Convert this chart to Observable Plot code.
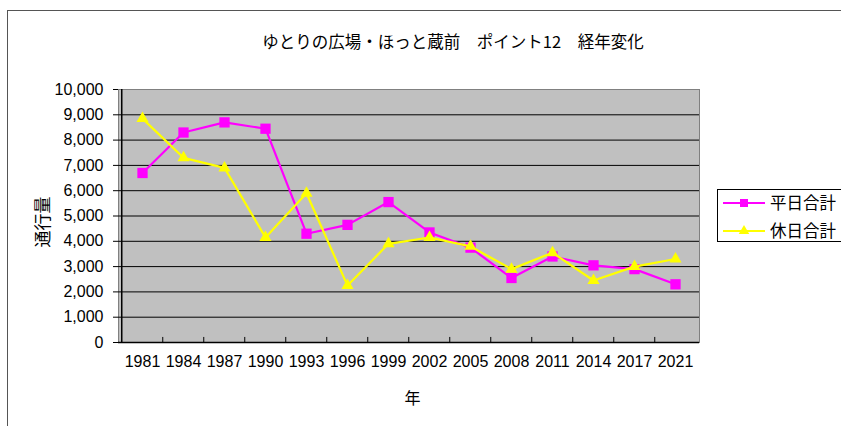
<!DOCTYPE html>
<html>
<head>
<meta charset="utf-8">
<script src="https://cdn.jsdelivr.net/npm/d3@7"></script>
<script src="https://cdn.jsdelivr.net/npm/@observablehq/plot@0.6"></script>
<style>
  html, body { margin: 0; padding: 0; background: #fff; overflow: hidden; }
  #wrap { position: relative; width: 841px; height: 426px; }
  #border { position: absolute; left: 7px; top: 10px; width: 900px; height: 500px; border: 1px solid #555; box-sizing: border-box; }
  #chart { position: absolute; left: 0; top: 0; }
</style>
</head>
<body>
<div id="wrap"><div id="border"></div><div id="chart"></div></div>
<script>
const years = ["1981","1984","1987","1990","1993","1996","1999","2002","2005","2008","2011","2014","2017","2021"];
const weekday = [6700, 8300, 8700, 8450, 4300, 4650, 5550, 4350, 3750, 2550, 3400, 3050, 2900, 2300];
const holiday = [8850, 7300, 6900, 4150, 5900, 2250, 3900, 4150, 3800, 2900, 3550, 2450, 3000, 3300];
const seriesNames = ["平日合計", "休日合計"];
const seriesColors = ["#FF00FF", "#FFFF00"];
const seriesSymbols = ["square", "triangle"];
const yTicks = [0, 1000, 2000, 3000, 4000, 5000, 6000, 7000, 8000, 9000, 10000];
const titleText = "ゆとりの広場・ほっと蔵前\u3000ポイント12\u3000経年変化";
const xLabel = "年";
const yLabel = "通行量";

const rowsA = years.map((y, i) => ({year: y, value: weekday[i], series: seriesNames[0]}));
const rowsB = years.map((y, i) => ({year: y, value: holiday[i], series: seriesNames[1]}));

const W = 841, H = 426;
const mL = 118, mR = 142, mT = 89, mB = 84;
const step = (W - mL - mR) / years.length;
const latin = "'Liberation Sans', Arial, sans-serif";
const cjk = "'Noto Sans CJK JP', sans-serif";

const plot = Plot.plot({
  width: W, height: H,
  marginLeft: mL, marginRight: mR, marginTop: mT, marginBottom: mB,
  style: {fontFamily: latin, fontSize: "16px", color: "#000", background: "transparent"},
  x: {type: "point", domain: years, padding: 0.5, align: 0.5},
  y: {domain: [0, 10000]},
  marks: [
    Plot.frame({fill: "#C0C0C0", stroke: "#808080"}),
    Plot.gridY(yTicks.filter(t => t > 0 && t < 10000), {stroke: "#000", strokeOpacity: 1, strokeWidth: 1}),
    Plot.ruleY([0], {stroke: "#000", strokeWidth: 1.5}),
    Plot.ruleX([years[0]], {dx: -step / 2, stroke: "#000", strokeWidth: 1.5}),
    Plot.ruleX(years.slice(1), {x: d => d, dx: -step / 2, y1: 0, y2: 200, stroke: "#000"}),
    Plot.axisY({ticks: yTicks, tickFormat: d3.format(","), tickSize: 5, tickPadding: 10, label: null, fontSize: 16, fontFamily: latin}),
    Plot.axisX({tickSize: 0, tickPadding: 13, label: null, fontSize: 16, fontFamily: latin}),
    Plot.line(rowsA, {x: "year", y: "value", stroke: seriesColors[0], strokeWidth: 2.2}),
    Plot.dot(rowsA, {x: "year", y: "value", symbol: seriesSymbols[0], r: 5.8, fill: seriesColors[0], stroke: "none"}),
    Plot.line(rowsB, {x: "year", y: "value", stroke: seriesColors[1], strokeWidth: 2.2}),
    Plot.dot(rowsB, {x: "year", y: "value", symbol: seriesSymbols[1], r: 4.5, fill: seriesColors[1], stroke: "none"}),
    Plot.text([titleText], {frameAnchor: "top", lineAnchor: "middle", dx: 44, dy: -47, fontSize: 16.5, fontFamily: cjk, fill: "#000"}),
    Plot.text([xLabel], {frameAnchor: "bottom", lineAnchor: "middle", dx: 3.5, dy: 56, fontSize: 16, fontFamily: cjk, fill: "#000"}),
    Plot.text([yLabel], {frameAnchor: "left", textAnchor: "middle", lineAnchor: "middle", dx: -75, dy: 6, rotate: -90, fontSize: 17, fontFamily: cjk, fill: "#000"})
  ]
});

// legend
const svg = d3.select(plot);
const lg = svg.append("g").attr("class", "legend").attr("text-anchor", "start");
lg.append("rect").attr("x", 717.5).attr("y", 189.5).attr("width", 140).attr("height", 52)
  .attr("fill", "#fff").attr("stroke", "#000");
seriesNames.forEach((name, i) => {
  const cy = 203 + i * 28;
  lg.append("line").attr("x1", 723).attr("x2", 765).attr("y1", cy).attr("y2", cy)
    .attr("stroke", seriesColors[i]).attr("stroke-width", 2.2);
  const sym = seriesSymbols[i] === "square" ? d3.symbolSquare : d3.symbolTriangle;
  const size = seriesSymbols[i] === "square" ? 64 : 48;
  lg.append("path").attr("d", d3.symbol(sym, size)()).attr("transform", `translate(744,${cy})`)
    .attr("fill", seriesColors[i]);
  lg.append("text").attr("x", 770).attr("y", cy).attr("dy", "0.36em")
    .attr("font-family", cjk).attr("font-size", 16.5).attr("fill", "#000").text(name);
});

document.getElementById("chart").appendChild(plot);
</script>
</body>
</html>
